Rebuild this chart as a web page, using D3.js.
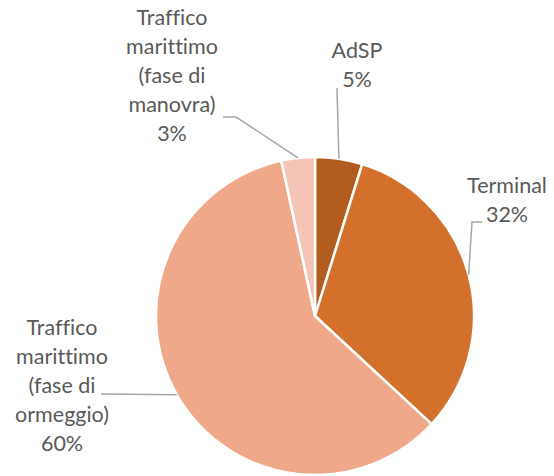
<!DOCTYPE html>
<html>
<head>
<meta charset="utf-8">
<script src="https://cdn.jsdelivr.net/npm/d3@7"></script>
<style>
body{margin:0;background:#fff}
svg text{font-family:Lato,"Open Sans",sans-serif;fill:#595959;font-variant-ligatures:none}
</style>
</head>
<body>
<div id="chart"></div>
<script>
var categories = ["AdSP","Terminal","Traffico marittimo (fase di ormeggio)","Traffico marittimo (fase di manovra)"]
var values = [4.8,32.1,59.7,3.4]
var colors = ["#B35C20","#D2702C","#F0A88A","#F4C5B6"]
// label text lines as they wrap in the picture
var labelLines = [
    ["AdSP"],
    ["Terminal"],
    ["Traffico","marittimo","(fase di","ormeggio)"],
    ["Traffico","marittimo","(fase di","manovra)"]
]

var width = 554
var height = 476
var cx = 315, cy = 316, radius = 159
var lineH = 29

// where each label block sits (center x, first baseline) and the leader elbow
var labelPos = [
    {x:357,y:58,elbow:[[337,88]]},
    {x:507,y:193,elbow:[[472,222],[482,222]]},
    {x:62,y:335,elbow:[[101,394]]},
    {x:172,y:25,elbow:[[236,117],[223,117]]}
]

var svg = d3.select("#chart").append("svg").attr("width",width).attr("height",height)
var g = svg.append("g").attr("transform","translate("+cx+","+cy+")")

var pie = d3.pie().sort(null).value(function(d){return d})
var arcs = pie(values)
var arc = d3.arc().innerRadius(0).outerRadius(radius)

g.selectAll("path.slice")
.data(arcs)
.enter()
.append("path")
.attr("class","slice")
.attr("d",arc)
.attr("fill",function(d,i){return colors[i]})
.attr("stroke","#ffffff")
.attr("stroke-width",2.5)
.attr("stroke-linejoin","round")

// leader lines from slice edge to label
svg.selectAll(".leader")
.data(arcs)
.enter()
.append("polyline")
.attr("class","leader")
.attr("points",function(d,i){
    var a = (d.startAngle+d.endAngle)/2
    var p = [cx+radius*Math.sin(a),cy-radius*Math.cos(a)]
    var pts = [p].concat(labelPos[i].elbow)
    return pts.map(function(q){return q.join(",")}).join(" ")
})
.attr("fill","none")
.attr("stroke","#A6A6A6")
.attr("stroke-width",1.5)

var labels = svg.selectAll(".lbl")
.data(arcs)
.enter()
.append("text")
.attr("class","lbl")
.attr("text-anchor","middle")
.style("font-size","21.5px")

labels.each(function(d,i){
    var t = d3.select(this)
    var lines = labelLines[i].concat([Math.round(values[i])+"%"])
    lines.forEach(function(s,k){
        t.append("tspan")
        .attr("x",labelPos[i].x)
        .attr("y",labelPos[i].y+k*lineH)
        .text(s)
    })
})
</script>
</body>
</html>
